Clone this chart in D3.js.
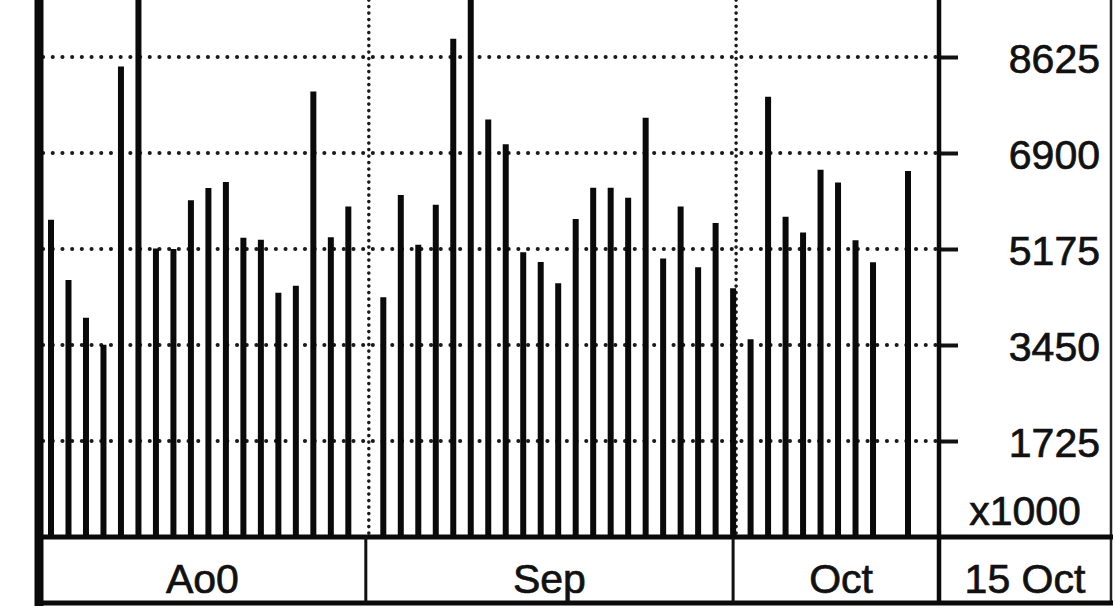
<!DOCTYPE html>
<html>
<head>
<meta charset="utf-8">
<script src="https://cdn.jsdelivr.net/npm/d3@7"></script>
<style>
  html, body { margin: 0; padding: 0; background: #fff; }
  svg { display: block; }
  text { font-family: "Liberation Sans", Arial, Helvetica, sans-serif; fill: #111; stroke: #111; stroke-width: 0.7px; }
</style>
</head>
<body>
<svg id="chart" width="1115" height="613"></svg>
<script>
// ---- data ----
const days = [
  "Aug 7","Aug 8","Aug 9","Aug 12","Aug 13","Aug 14","Aug 15","Aug 16","Aug 19","Aug 20",
  "Aug 21","Aug 22","Aug 23","Aug 26","Aug 27","Aug 28","Aug 29","Aug 30",
  "Sep 2","Sep 3","Sep 4","Sep 5","Sep 6","Sep 9","Sep 10","Sep 11","Sep 12","Sep 13",
  "Sep 16","Sep 17","Sep 18","Sep 19","Sep 20","Sep 23","Sep 24","Sep 25","Sep 26","Sep 27","Sep 30",
  "Oct 1","Oct 2","Oct 3","Oct 4","Oct 7","Oct 8","Oct 9","Oct 10","Oct 11","Oct 14","Oct 15"
];
const volume = [
  5700, 4620, 3940, 3455, 8455, 10400, 5185, 5175, 6050, 6270,
  6380, 5375, 5340, 4390, 4515, 8005, 5385, 5940,
  null, 4310, 6145, 5250, 5970, 8955, 10800, 7500, 7055, 5115,
  4940, 4560, 5715, 6275, 6275, 6095, 7535, 5005, 5940, 4845, 5640,
  4470, 3555, 7910, 5755, 5470, 6600, 6370, 5330, 4935, null, 6575
];
const tickValues = [1725, 3450, 5175, 6900, 8625];
const unitLabel = "x1000";
const monthStarts = ["Sep 2", "Oct 1"];
const bandLabels = ["Ao0", "Sep", "Oct", "15 Oct"];

// ---- layout ----
const svg = d3.select("#chart");
const plotLeft = 39, plotRight = 939, bandTop = 537, bandBottom = 603, rightEdge = 1111;
const fontSize = 41;

const x = d3.scalePoint().domain(days).range([51, 908]);
const y = d3.scaleLinear().domain([0, 8625]).range([bandTop, 57]);

// gridlines (dotted)
svg.append("g").selectAll("line").data(tickValues).join("line")
  .attr("x1", plotLeft + 4).attr("x2", plotRight)
  .attr("y1", d => y(d)).attr("y2", d => y(d))
  .attr("stroke", "#1a1a1a").attr("stroke-width", 4)
  .attr("stroke-linecap", "round").attr("stroke-dasharray", "0.1,9.6");

// month separators (dotted verticals)
svg.append("g").selectAll("line").data(monthStarts).join("line")
  .attr("x1", d => x(d) + 3).attr("x2", d => x(d) + 3)
  .attr("y1", 0).attr("y2", bandTop)
  .attr("stroke", "#1a1a1a").attr("stroke-width", 3.6)
  .attr("stroke-linecap", "round").attr("stroke-dasharray", "0.1,6.4");

// bars
const rows = days.map((d, i) => ({ day: d, v: volume[i] })).filter(r => r.v !== null);
svg.append("g").selectAll("line").data(rows).join("line")
  .attr("x1", d => x(d.day)).attr("x2", d => x(d.day))
  .attr("y1", bandTop).attr("y2", d => Math.max(0, y(d.v)))
  .attr("stroke", "#0a0a0a").attr("stroke-width", 6);

// right axis with ticks
const axis = d3.axisRight(y).tickValues(tickValues).tickSize(19).tickSizeOuter(0)
  .tickFormat(d3.format("d"));
const ag = svg.append("g").attr("transform", `translate(${plotRight},0)`).call(axis);
ag.select(".domain").remove();
ag.selectAll(".tick line").attr("stroke", "#111").attr("stroke-width", 4);
ag.selectAll(".tick text")
  .attr("x", 1100 - plotRight).attr("dy", null).attr("y", 15)
  .attr("text-anchor", "end")
  .style("font-family", "\"Liberation Sans\", Arial, Helvetica, sans-serif")
  .style("font-size", fontSize + "px").attr("fill", "#111")
  .attr("stroke", "#111").attr("stroke-width", 0.7);

svg.append("text").attr("x", (plotRight + rightEdge) / 2).attr("y", 525)
  .attr("text-anchor", "middle").style("font-size", fontSize + "px").text(unitLabel);

// frame lines
svg.append("line").attr("x1", plotLeft).attr("x2", plotLeft).attr("y1", 0).attr("y2", bandBottom + 3)
  .attr("stroke", "#0a0a0a").attr("stroke-width", 9);
svg.append("line").attr("x1", plotRight).attr("x2", plotRight).attr("y1", 0).attr("y2", bandBottom)
  .attr("stroke", "#0a0a0a").attr("stroke-width", 4.5);
svg.append("line").attr("x1", rightEdge).attr("x2", rightEdge).attr("y1", 0).attr("y2", bandBottom)
  .attr("stroke", "#222").attr("stroke-width", 2.5);
svg.append("line").attr("x1", plotLeft - 4).attr("x2", rightEdge + 2).attr("y1", bandTop).attr("y2", bandTop)
  .attr("stroke", "#0a0a0a").attr("stroke-width", 5);
svg.append("line").attr("x1", plotLeft - 4).attr("x2", rightEdge + 2).attr("y1", bandBottom).attr("y2", bandBottom)
  .attr("stroke", "#0a0a0a").attr("stroke-width", 5);

// bottom band sections
const dividers = [plotLeft, x(monthStarts[0]), x(monthStarts[1]), plotRight, rightEdge];
svg.append("g").selectAll("line").data(dividers.slice(1, 3)).join("line")
  .attr("x1", d => d).attr("x2", d => d).attr("y1", bandTop).attr("y2", bandBottom)
  .attr("stroke", "#111").attr("stroke-width", 3);
svg.append("g").selectAll("text").data(bandLabels).join("text")
  .attr("x", (d, i) => (dividers[i] + dividers[i + 1]) / 2 + (i === 2 ? 5 : 0))
  .attr("y", 593)
  .attr("text-anchor", "middle")
  .style("font-size", fontSize + "px")
  .text(d => d);
</script>
</body>
</html>
